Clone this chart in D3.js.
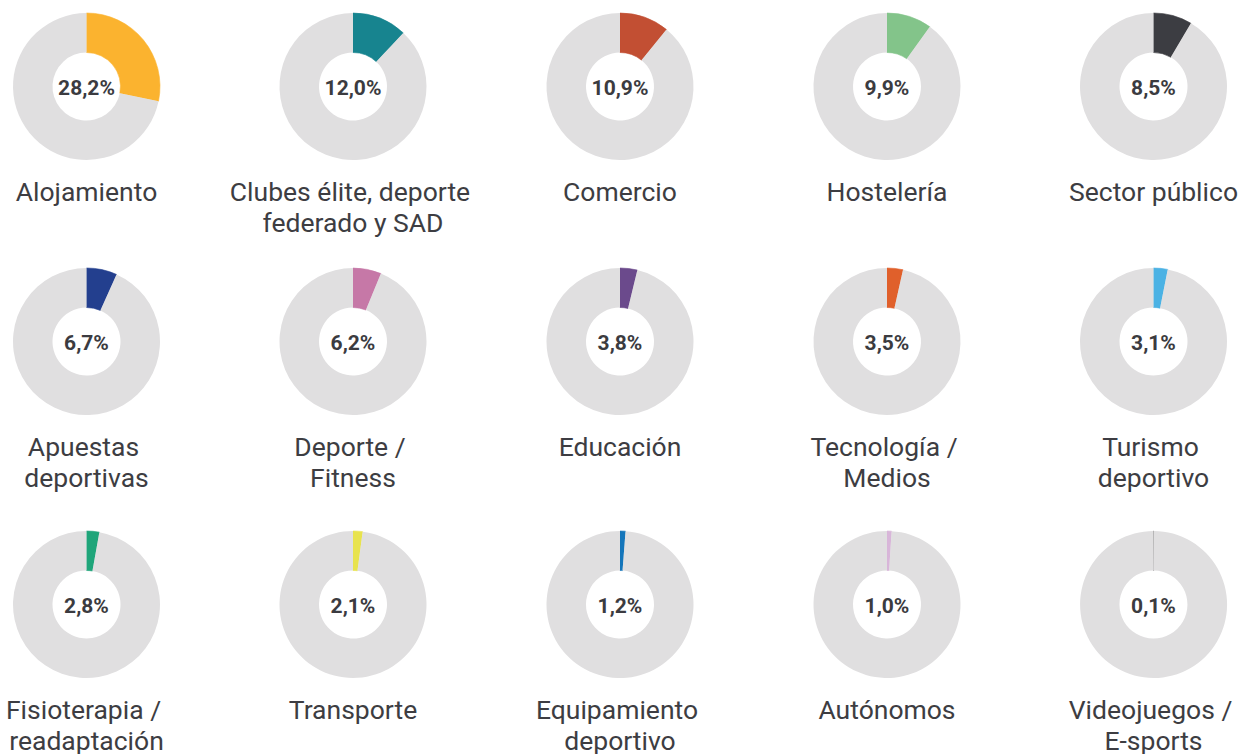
<!DOCTYPE html>
<html>
<head>
<meta charset="utf-8">
<script src="https://cdn.jsdelivr.net/npm/d3@7"></script>
<style>
  html, body { margin: 0; padding: 0; background: #fff; }
  svg { display: block; font-family: Roboto, "Noto Sans", sans-serif; }
</style>
</head>
<body>
<main></main>
<script>
// data
let sectors = [
    ["Alojamiento"],
    ["Clubes élite, deporte", "federado y SAD"],
    ["Comercio"],
    ["Hostelería"],
    ["Sector público"],
    ["Apuestas", "deportivas"],
    ["Deporte /", "Fitness"],
    ["Educación"],
    ["Tecnología /", "Medios"],
    ["Turismo", "deportivo"],
    ["Fisioterapia /", "readaptación"],
    ["Transporte"],
    ["Equipamiento", "deportivo"],
    ["Autónomos"],
    ["Videojuegos /", "E-sports"]
]
let shares = [28.2, 12.0, 10.9, 9.9, 8.5, 6.7, 6.2, 3.8, 3.5, 3.1, 2.8, 2.1, 1.2, 1.0, 0.1]
let colors = ["#fbb32f", "#17848f", "#c24f33", "#83c48a", "#3c3d42",
              "#233f8e", "#c678a7", "#6b4a8c", "#e0602b", "#4bb2e4",
              "#1fa57a", "#e8e34e", "#1476bb", "#d8b6d9", "#6e6e6e"]

let width = 1240, height = 754
let colX = [86.5, 353, 620, 887, 1153.5]
let rowY = [86.5, 341.5, 604.5]
let outerR = 73.5, innerR = 34

let svg = d3.select('main')
    .append('svg')
    .attr('width', width)
    .attr('height', height)

let pie = d3.pie().sort(null)
let arc = d3.arc().innerRadius(innerR).outerRadius(outerR)
let fmt = v => d3.format('.1f')(v).replace('.', ',') + '%'

shares.forEach((v, i) => {
    let g = svg.append('g')
        .attr('transform', `translate(${colX[i % 5]},${rowY[Math.floor(i / 5)]})`)

    g.selectAll('path')
        .data(pie([v, 100 - v]))
        .join('path')
        .attr('d', arc)
        .attr('fill', (d, j) => j === 0 ? colors[i] : '#e0dfe0')
        .attr('stroke', (d, j) => j === 0 ? colors[i] : 'none')
        .attr('stroke-width', 0.6)

    g.append('text')
        .attr('y', 8)
        .attr('text-anchor', 'middle')
        .style('font-size', '21px')
        .style('font-weight', 'bold')
        .style('fill', '#3b3b40')
        .text(fmt(v))

    let lines = sectors[i]
    lines.forEach((line, k) => {
        g.append('text')
            .attr('x', k < lines.length - 1 ? -3 : 0)
            .attr('y', 114 + k * 31.5)
            .attr('text-anchor', 'middle')
            .style('font-size', '26.5px')
            .style('fill', '#3d3d42')
            .text(line)
    })
})
</script>
</body>
</html>
